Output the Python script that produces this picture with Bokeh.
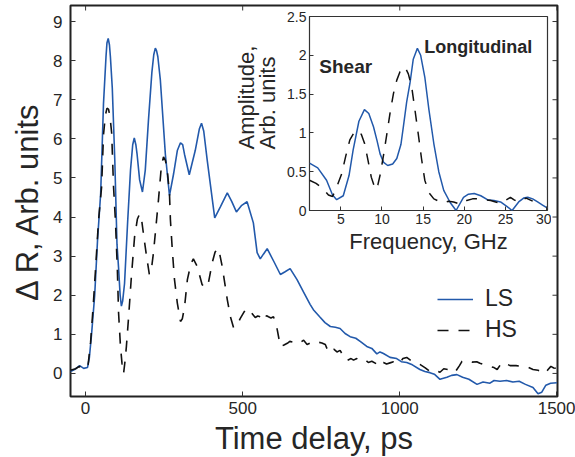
import math
from bokeh.plotting import figure
from bokeh.models import (Range1d, FixedTicker, Legend, LegendItem,
                          CustomJSTickFormatter, Label)
from bokeh.embed import file_html
from bokeh.resources import INLINE

# ---------------- data ----------------
ls_t = [-48, -35, -19, -6, 6, 12, 19, 29, 38, 48, 57, 65, 68, 72, 76, 79, 85, 93, 100, 105,
        110, 114, 118, 124, 134, 143, 150, 155, 160, 164, 172, 181, 190, 200, 211, 217, 222,
        226, 230, 238, 254, 267, 280, 292, 302, 309, 315, 330, 349, 362, 369, 376, 387, 411,
        429, 451, 465, 480, 497, 514, 534, 546, 556, 566, 578, 600, 620, 635, 651, 673, 693,
        715, 725, 745, 762, 779, 795, 810, 826, 842, 860, 874, 895, 911, 927, 937, 948, 969,
        990, 1005, 1022, 1040, 1064, 1080, 1096, 1110, 1128, 1150, 1165, 1182, 1200, 1220,
        1246, 1265, 1287, 1300, 1319, 1340, 1360, 1380, 1400, 1424, 1440, 1452, 1465, 1480,
        1500]
ls_v = [0.05, 0.1, 0.2, 0.13, 0.15, 0.4, 1.0, 2.0, 3.4, 4.6, 6.9, 8.1, 8.45, 8.57, 8.4,
        8.1, 7.3, 5.45, 3.3, 2.7, 2.0, 1.72, 1.85, 2.3, 3.9, 5.2, 5.85, 6.02, 5.85, 5.6,
        4.95, 4.64, 5.2, 6.46, 7.7, 8.15, 8.32, 8.25, 8.1, 7.5, 5.6, 4.55, 5.1, 5.7, 5.9,
        5.85, 5.6, 5.08, 5.7, 6.25, 6.4, 6.2, 5.46, 3.98, 4.26, 4.62, 4.4, 4.13, 4.3, 4.39,
        3.85, 3.09, 2.93, 3.05, 3.19, 2.85, 2.53, 2.6, 2.68, 2.4, 2.09, 1.76, 1.63, 1.45,
        1.3, 1.2, 1.18, 1.15, 1.02, 0.94, 0.9, 0.82, 0.69, 0.64, 0.5, 0.55, 0.51, 0.41,
        0.38, 0.3, 0.28, 0.22, 0.1, 0.05, 0.02, -0.02, -0.15, -0.1, -0.05, -0.03, -0.1,
        -0.15, -0.28, -0.22, -0.25, -0.18, -0.2, -0.18, -0.22, -0.2, -0.28, -0.36, -0.52,
        -0.48, -0.3, -0.25, -0.24]

hs_t = [-48, -32, -20, -12, 0, 8, 16, 24, 32, 41, 51, 57, 63, 68, 73, 78, 83, 89, 95, 101,
        105, 111, 116, 121, 126, 130, 137, 146, 156, 165, 172, 178, 187, 194, 203, 210, 216,
        226, 232, 241, 248, 254, 260, 267, 270, 276, 283, 292, 302, 308, 315, 324, 335, 343,
        355, 371, 381, 391, 403, 412, 420, 427, 435, 451, 461, 471, 480, 492, 505, 514, 520,
        527, 540, 548, 556, 563, 569, 576, 582, 590, 598, 604, 610, 620, 630, 642, 650, 661,
        672, 683, 694, 705, 715, 725, 740, 752, 763, 770, 779, 790, 800, 810, 820, 832, 845,
        853, 863, 874, 890, 900, 911, 925, 937, 948, 958, 969, 980, 997, 1010, 1022, 1035,
        1048, 1064, 1080, 1096, 1112, 1128, 1140, 1154, 1165, 1176, 1190, 1198, 1214, 1230,
        1245, 1255, 1270, 1287, 1300, 1310, 1325, 1338, 1351, 1370, 1392, 1410, 1424, 1440,
        1462, 1472, 1481, 1490, 1500]
hs_v = [0.08, 0.12, 0.18, 0.12, 0.14, 0.22, 0.8, 1.7, 2.7, 3.9, 4.77, 6.1, 6.6, 6.78, 6.76,
        6.55, 6.15, 4.77, 3.9, 2.7, 1.55, 0.7, 0.25, 0.0, 0.35, 0.7, 1.45, 2.5, 3.5, 3.95,
        4.08, 3.95, 3.4, 3.0, 2.53, 2.7, 3.08, 3.93, 4.44, 5.28, 5.54, 5.45, 5.2, 4.6, 3.93,
        3.16, 2.4, 1.8, 1.33, 1.4, 1.7, 2.4, 2.8, 2.93, 2.74, 2.27, 2.19, 2.32, 2.83, 3.1,
        3.2, 3.05, 2.73, 1.89, 1.45, 1.17, 1.2, 1.4, 1.58, 1.66, 1.6, 1.56, 1.43, 1.47, 1.45,
        1.35, 1.38, 1.48, 1.45, 1.42, 1.45, 1.3, 1.12, 0.69, 0.72, 0.77, 0.82, 0.8, 0.76,
        0.79, 0.85, 0.74, 0.78, 0.82, 0.8, 0.78, 0.74, 0.6, 0.53, 0.62, 0.55, 0.59, 0.45,
        0.33, 0.38, 0.34, 0.38, 0.33, 0.35, 0.28, 0.31, 0.25, 0.18, 0.28, 0.24, 0.27, 0.3,
        0.25, 0.38, 0.41, 0.33, 0.28, 0.23, 0.15, 0.05, 0.08, 0.03, 0.12, 0.1, 0.06, 0.03,
        0.2, 0.31, 0.33, 0.29, 0.3, 0.26, 0.22, 0.18, 0.15, 0.1, 0.28, 0.25, 0.2, 0.2, 0.18,
        0.15, 0.1, 0.08, 0.0, 0.1, 0.18, 0.14, 0.13]

# inset spectra
ls_f = [1.2, 2.2, 3.27, 4.0, 4.5, 5.3, 6.0, 6.5, 7.2, 7.87, 8.4, 8.97, 9.4, 9.77, 10.2, 10.7,
        11.3, 11.8, 12.3, 12.6, 13.0, 13.4, 13.8, 14.3, 14.7, 15.2, 15.7, 16.3, 16.9, 17.5,
        18.3, 19.0, 19.9, 20.5, 21.2, 22.0, 22.8, 23.6, 24.4, 25.2, 25.8, 26.6, 27.2, 27.7,
        28.3, 28.9, 29.5, 30.1]
ls_a = [0.61, 0.55, 0.39, 0.2, 0.14, 0.19, 0.45, 0.78, 1.15, 1.30, 1.25, 1.08, 0.9, 0.73,
        0.62, 0.58, 0.6, 0.67, 0.85, 1.08, 1.4, 1.64, 1.95, 2.09, 2.0, 1.72, 1.3, 0.86, 0.5,
        0.26, 0.1, 0.0, 0.17, 0.21, 0.22, 0.19, 0.14, 0.13, 0.11, 0.05, 0.0, 0.11, 0.16,
        0.17, 0.15, 0.11, 0.07, 0.03]
hs_f = [1.2, 2.0, 2.87, 3.5, 4.0, 4.5, 5.1, 5.6, 6.1, 6.6, 7.1, 7.5, 7.9, 8.3, 8.7, 9.2, 9.5,
        9.8, 10.2, 10.6, 11.0, 11.4, 11.8, 12.2, 12.8, 13.2, 13.6, 14.0, 14.4, 14.8, 15.2,
        15.7, 16.3, 16.9, 17.5, 18.1, 18.7, 19.5, 20.3, 21.0, 21.6, 22.4, 23.2, 23.8, 24.4,
        25.0, 25.6, 26.0, 26.5, 27.0, 27.5, 27.9, 28.3]
hs_a = [0.39, 0.35, 0.28, 0.2, 0.18, 0.3, 0.47, 0.7, 0.91, 1.0, 1.03, 0.98, 0.86, 0.65, 0.43,
        0.27, 0.33, 0.47, 0.72, 0.99, 1.27, 1.51, 1.68, 1.79, 1.85, 1.76, 1.6, 1.3, 0.99,
        0.67, 0.39, 0.23, 0.15, 0.12, 0.1, 0.12, 0.11, 0.08, 0.13, 0.15, 0.15, 0.14, 0.13,
        0.11, 0.09, 0.13, 0.17, 0.14, 0.11, 0.13, 0.16, 0.14, 0.12]

main_xticks = [0, 500, 1000, 1500]
main_yticks = [0, 1, 2, 3, 4, 5, 6, 7, 8, 9]
inset_xticks = [5, 10, 15, 20, 25, 30]
inset_yticks = [0, 0.5, 1, 1.5, 2, 2.5]
inset_ylabel_lines = ["Amplitude,", "Arb. units"]

BLUE = "#2259ab"
BLACK = "#111111"
FONT = "Liberation Sans"
TXT = "#262626"
DASH = "11 10"

# main box: page pixels (70..557, 5..396)
X0, X1, Y0, Y1 = -48, 1502, -0.59, 9.41
FL, FT = 70, 5
FW, FH = 487, 391
TICK = 5

IX0, IX1, IY0, IY1 = 1.2, 30.1, 0, 2.5
IFW, IFH = 238, 194


def style_axis(ax, ticks, size):
    ax.ticker = FixedTicker(ticks=ticks)
    ax.axis_line_color = None
    ax.major_tick_in = TICK
    ax.major_tick_out = 0
    ax.major_tick_line_color = "#333333"
    ax.minor_tick_line_color = None
    ax.major_label_text_font = FONT
    ax.major_label_text_color = TXT
    ax.major_label_text_font_size = size
    ax.axis_label_text_font = FONT
    ax.axis_label_text_font_style = "normal"
    ax.axis_label_text_color = TXT


# ---------------- main figure ----------------
p = figure(width=575, height=457, x_range=Range1d(X0, X1), y_range=Range1d(Y0, Y1),
           output_backend="svg", toolbar_location=None,
           min_border_left=FL, min_border_right=18, min_border_top=FT, min_border_bottom=61)
p.frame_width = FW
p.frame_height = FH
p.styles = {"position": "absolute", "left": "0px", "top": "0px"}
p.grid.visible = False
p.outline_line_color = "#222222"
p.outline_line_width = 2
p.background_fill_color = "white"
p.border_fill_color = "white"

style_axis(p.xaxis[0], main_xticks, "17px")
style_axis(p.yaxis[0], main_yticks, "17px")
p.xaxis[0].axis_label = "Time delay, ps"
p.xaxis[0].axis_label_text_font_size = "31px"
p.xaxis[0].major_label_standoff = 5
p.xaxis[0].axis_label_standoff = 4
p.yaxis[0].axis_label = "Δ R, Arb. units"
p.yaxis[0].axis_label_text_font_size = "31px"
p.yaxis[0].major_label_standoff = 8
p.yaxis[0].axis_label_standoff = 5

# mirrored ticks on the top and right edges of the box
dy = TICK * (Y1 - Y0) / FH
dx = TICK * (X1 - X0) / FW
p.segment(x0=main_xticks, x1=main_xticks, y0=[Y1] * len(main_xticks),
          y1=[Y1 - dy] * len(main_xticks), line_color="#333333", line_width=1)
p.segment(x0=[X1] * len(main_yticks), x1=[X1 - dx] * len(main_yticks), y0=main_yticks,
          y1=main_yticks, line_color="#333333", line_width=1)

r_ls = p.line(ls_t, ls_v, line_color=BLUE, line_width=1.6)
r_hs = p.line(hs_t, hs_v, line_color=BLACK, line_width=1.6, line_dash=DASH)

legend = Legend(items=[LegendItem(label="LS", renderers=[r_ls]),
                       LegendItem(label="HS", renderers=[r_hs])],
                location=(367, 53), glyph_width=36, glyph_height=22, label_height=22,
                spacing=4, padding=0, margin=0, label_standoff=12,
                label_text_font=FONT, label_text_font_size="23px", label_text_color=TXT,
                border_line_color=None, background_fill_alpha=0)
p.add_layout(legend)


def page_to_main(px, py):
    """page pixel -> main data coordinates (for placing the inset's y label)"""
    return (X0 + (px - FL) * (X1 - X0) / FW, Y1 - (py - FT) * (Y1 - Y0) / FH)


# inset y label: two rotated lines that start at the same height, left of the inset box
for line_text, px in zip(inset_ylabel_lines, (246, 267)):
    lx, ly = page_to_main(px, 149)
    p.add_layout(Label(x=lx, y=ly, text=line_text, angle=math.pi / 2, text_font=FONT,
                       text_font_size="22px", text_color=TXT, text_align="left",
                       text_baseline="middle"))

# ---------------- inset figure ----------------
q = figure(width=317, height=245, x_range=Range1d(IX0, IX1), y_range=Range1d(IY0, IY1),
           output_backend="svg", toolbar_location=None,
           min_border_left=75, min_border_right=4, min_border_top=6, min_border_bottom=45)
q.frame_width = IFW
q.frame_height = IFH
q.styles = {"position": "absolute", "left": "234px", "top": "10px"}
q.grid.visible = False
q.outline_line_color = "#333333"
q.outline_line_width = 1.2
q.background_fill_color = "white"
q.border_fill_alpha = 0

style_axis(q.xaxis[0], inset_xticks, "14px")
style_axis(q.yaxis[0], inset_yticks, "14px")
for ax in (q.xaxis[0], q.yaxis[0]):
    ax.major_tick_in = 4
q.yaxis[0].formatter = CustomJSTickFormatter(code="return String(tick);")
q.xaxis[0].axis_label = "Frequency, GHz"
q.xaxis[0].axis_label_text_font_size = "22px"
q.xaxis[0].major_label_standoff = 3
q.xaxis[0].axis_label_standoff = 2
q.yaxis[0].major_label_standoff = 3

q.line(ls_f, ls_a, line_color=BLUE, line_width=1.5)
q.line(hs_f, hs_a, line_color=BLACK, line_width=1.5, line_dash=DASH)

q.add_layout(Label(x=5.6, y=1.85, text="Shear", text_font=FONT, text_font_style="bold",
                   text_font_size="19px", text_color=TXT, text_align="center",
                   text_baseline="middle"))
q.add_layout(Label(x=21.7, y=2.11, text="Longitudinal", text_font=FONT,
                   text_font_style="bold", text_font_size="18px", text_color=TXT,
                   text_align="center", text_baseline="middle"))

open("out.html", "w").write(file_html([p, q], INLINE))
